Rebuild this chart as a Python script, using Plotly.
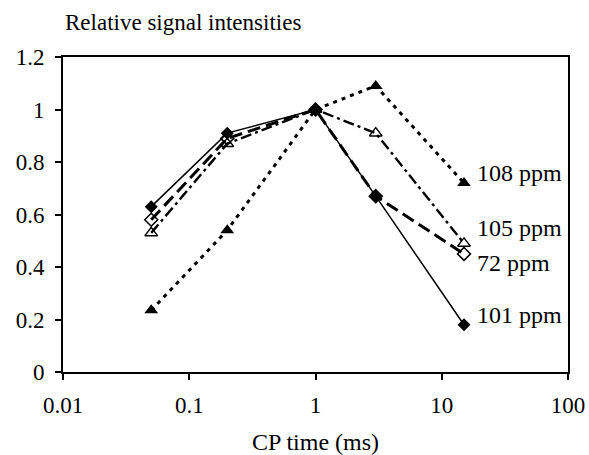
import plotly.graph_objects as go

cp_time = [0.05, 0.2, 1, 3, 15]
s101 = [0.63, 0.91, 1.0, 0.67, 0.18]
s72 = [0.58, 0.89, 1.0, 0.67, 0.45]
s105 = [0.53, 0.87, 1.0, 0.91, 0.49]
s108 = [0.235, 0.54, 1.0, 1.09, 0.72]
series_names = ["101 ppm", "72 ppm", "105 ppm", "108 ppm"]
x_ticks = [0.01, 0.1, 1, 10, 100]
x_tick_text = ["0.01", "0.1", "1", "10", "100"]

FONT = "Liberation Serif"
LFS = 24
TFS = 23

fig = go.Figure()
fig.add_trace(go.Scatter(x=cp_time, y=s101, name=series_names[0], mode="lines+markers",
                         line=dict(color="black", width=1.5),
                         marker=dict(symbol="diamond", size=10, color="black")))
fig.add_trace(go.Scatter(x=cp_time, y=s72, name=series_names[1], mode="lines+markers",
                         line=dict(color="black", width=3, dash="13px,6px"),
                         marker=dict(symbol="diamond-open", size=10, color="black", line=dict(width=1.5))))
fig.add_trace(go.Scatter(x=cp_time, y=s105, name=series_names[2], mode="lines+markers",
                         line=dict(color="black", width=2.4, dash="11px,4px,3px,4px"),
                         marker=dict(symbol="triangle-up-open", size=11, color="black", line=dict(width=1.5))))
fig.add_trace(go.Scatter(x=cp_time, y=s108, name=series_names[3], mode="lines+markers",
                         line=dict(color="black", width=3, dash="4px,5px"),
                         marker=dict(symbol="triangle-up", size=12, color="black")))

label_y = [0.217, 0.415, 0.549, 0.758]
for name, yy in zip(series_names, label_y):
    fig.add_annotation(x=1.26, y=yy, xref="x", yref="y", text=name, showarrow=False,
                       xanchor="left", yanchor="middle", font=dict(family=FONT, size=LFS, color="black"))

fig.add_annotation(x=0, y=1, xref="paper", yref="paper", yshift=20, text="Relative signal intensities",
                   showarrow=False, xanchor="left", yanchor="bottom",
                   font=dict(family=FONT, size=23, color="black"))

fig.update_layout(
    width=589, height=455,
    margin=dict(l=63, r=21, t=57, b=83, autoexpand=False),
    paper_bgcolor="white", plot_bgcolor="white",
    showlegend=False,
    font=dict(family=FONT, size=LFS, color="black"),
)
fig.update_xaxes(type="log", range=[-2, 2], tickvals=x_ticks, ticktext=x_tick_text,
                 automargin=False,
                 showgrid=False, zeroline=False, showline=True, linecolor="black", linewidth=2,
                 mirror=True, ticks="outside", ticklen=6, tickwidth=1.5, tickcolor="black",
                 ticklabelstandoff=5, tickfont=dict(family=FONT, size=TFS),
                 title=dict(text="CP time (ms)", font=dict(family=FONT, size=LFS), standoff=18))
fig.update_yaxes(range=[0, 1.2], dtick=0.2, automargin=False,
                 showgrid=False, zeroline=False, showline=True,
                 linecolor="black", linewidth=2, mirror=True, ticks="outside", ticklen=6,
                 tickwidth=1.5, tickcolor="black", ticklabelstandoff=6,
                 tickfont=dict(family=FONT, size=TFS))

fig.write_html("out.html")
